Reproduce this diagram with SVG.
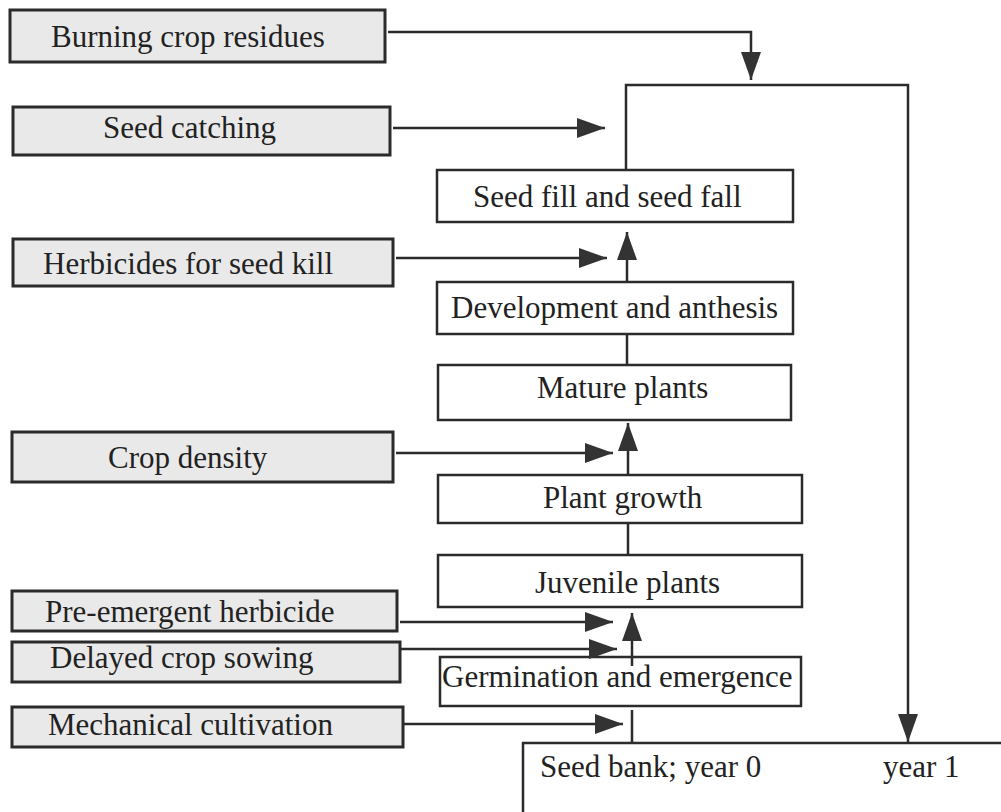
<svg xmlns="http://www.w3.org/2000/svg" width="1001" height="812" viewBox="0 0 1001 812">
<style>
  .ctl rect { fill: #e9e9e9; stroke: #2b2b2b; stroke-width: 3; }
  .stage rect { fill: #ffffff; stroke: #2b2b2b; stroke-width: 2.5; }
  text { font-family: "Liberation Serif", "Times New Roman", serif; font-size: 31px; fill: #222222; }
  .conn path { fill: none; stroke: #2b2b2b; stroke-width: 2.5; }
</style>
<defs>
  <marker id="ah" viewBox="0 0 28 20" refX="28" refY="10" markerWidth="28" markerHeight="20" markerUnits="userSpaceOnUse" orient="auto">
    <path d="M0,0 L28,10 L0,20 Z" fill="#333333"/>
  </marker>
</defs>
<rect x="0" y="0" width="1001" height="812" fill="#ffffff"/>

<g id="burning" class="ctl"><rect x="10" y="10" width="375" height="52"/><text x="51" y="47">Burning crop residues</text></g>
<g id="seedcatching" class="ctl"><rect x="13" y="107" width="377" height="48"/><text x="103" y="138">Seed catching</text></g>
<g id="herbicides" class="ctl"><rect x="13" y="239" width="380" height="47"/><text x="43" y="274">Herbicides for seed kill</text></g>
<g id="cropdensity" class="ctl"><rect x="12" y="432" width="381" height="50"/><text x="108" y="468">Crop density</text></g>
<g id="preemergent" class="ctl"><rect x="12" y="591" width="385" height="40"/><text x="45" y="622">Pre-emergent herbicide</text></g>
<g id="delayed" class="ctl"><rect x="12" y="642" width="388" height="40"/><text x="50" y="668">Delayed crop sowing</text></g>
<g id="mechanical" class="ctl"><rect x="12" y="707" width="391" height="40"/><text x="48" y="735">Mechanical cultivation</text></g>

<g id="seedfill" class="stage"><rect x="437" y="170" width="356" height="52"/><text x="473" y="207">Seed fill and seed fall</text></g>
<g id="development" class="stage"><rect x="437" y="282" width="356" height="52"/><text x="451" y="318">Development and anthesis</text></g>
<g id="mature" class="stage"><rect x="438" y="365" width="353" height="55"/><text x="537" y="398">Mature plants</text></g>
<g id="plantgrowth" class="stage"><rect x="438" y="475" width="364" height="48"/><text x="543" y="508">Plant growth</text></g>
<g id="juvenile" class="stage"><rect x="438" y="555" width="364" height="52"/><text x="535" y="593">Juvenile plants</text></g>
<g id="germination" class="stage"><rect x="440" y="657" width="361" height="49"/><text x="442" y="687">Germination and emergence</text></g>
<g id="seedbank"><path d="M523,812 V743 H1001" fill="none" stroke="#2b2b2b" stroke-width="2.5"/><text x="540" y="777">Seed bank; year 0</text><text x="883" y="777">year 1</text></g>

<g id="connectors" class="conn">
  <path d="M388,32 H751 V80" marker-end="url(#ah)"/>
  <path d="M393,128 H605" marker-end="url(#ah)"/>
  <path d="M626,170 V85 H908 V742" marker-end="url(#ah)"/>
  <path d="M396,258 H607" marker-end="url(#ah)"/>
  <path d="M627,282 V232" marker-end="url(#ah)"/>
  <path d="M627,334 V365"/>
  <path d="M396,453 H613" marker-end="url(#ah)"/>
  <path d="M628,475 V423" marker-end="url(#ah)"/>
  <path d="M628,523 V555"/>
  <path d="M400,622 H613" marker-end="url(#ah)"/>
  <path d="M401,649 H617" marker-end="url(#ah)"/>
  <path d="M632,666 V613" marker-end="url(#ah)"/>
  <path d="M403,724 H623" marker-end="url(#ah)"/>
  <path d="M632,710 V743"/>
</g>
</svg>
